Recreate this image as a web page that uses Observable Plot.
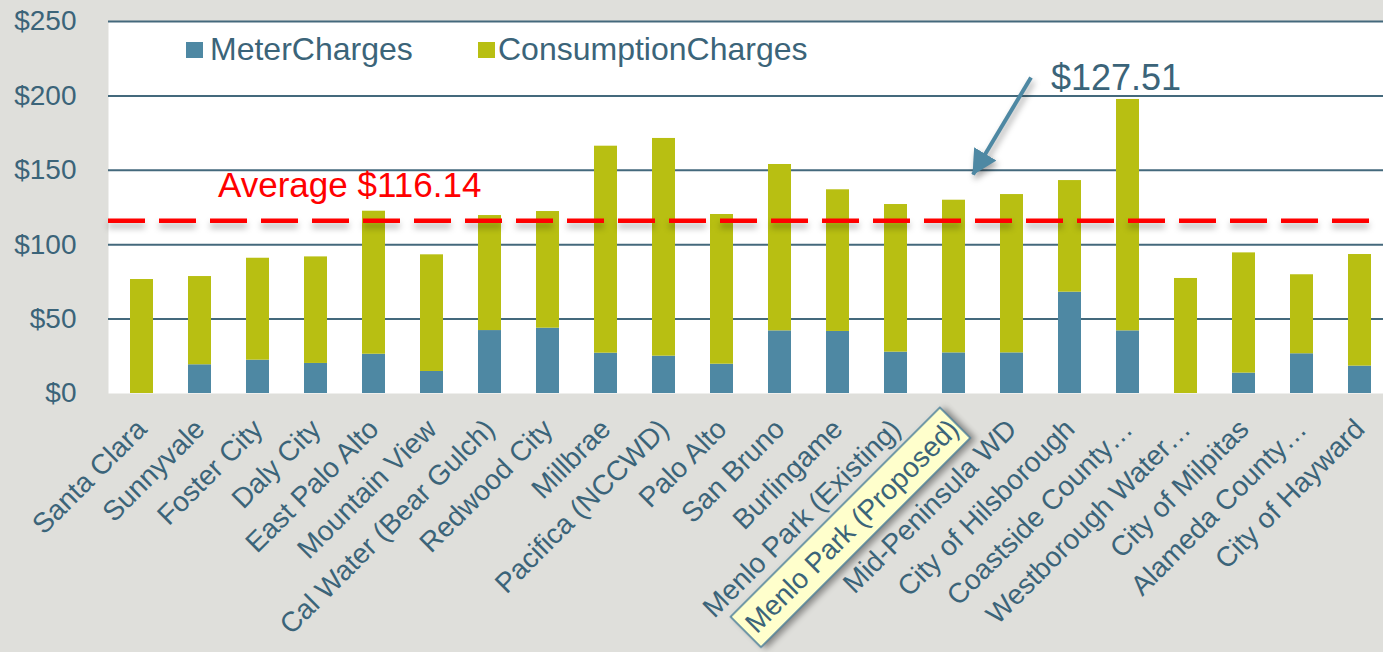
<!DOCTYPE html>
<html><head><meta charset="utf-8">
<script src="https://cdn.jsdelivr.net/npm/d3@7"></script>
<script src="https://cdn.jsdelivr.net/npm/@observablehq/plot@0.6"></script>
<style>
html,body{margin:0;padding:0;background:#dfdfdb;}
#chart{position:relative;width:1383px;height:652px;overflow:hidden;font-family:"Liberation Sans",Arial,sans-serif;}
.lg{position:absolute;font-size:32px;line-height:32px;color:#3b6479;white-space:nowrap;}
.sw{position:absolute;width:17px;height:16px;}
</style></head><body><div id="chart"></div>
<script>
const categories = ["Santa Clara","Sunnyvale","Foster City","Daly City","East Palo Alto","Mountain View","Cal Water (Bear Gulch)","Redwood City","Millbrae","Pacifica (NCCWD)","Palo Alto","San Bruno","Burlingame","Menlo Park (Existing)","Menlo Park (Proposed)","Mid-Peninsula WD","City of Hilsborough","Coastside County…","Westborough Water…","City of Milpitas","Alameda County…","City of Hayward"];
const meterCharges = [0, 19.3, 22.4, 20.2, 26.4, 14.8, 42.3, 43.9, 27.1, 25.1, 19.7, 42.1, 41.7, 27.8, 27.3, 27.3, 68.1, 42.1, 0, 13.7, 26.7, 18.4];
const consumptionCharges = [76.6, 59.3, 68.5, 71.6, 96.1, 78.4, 77.3, 78.4, 139.1, 146.3, 100.6, 111.8, 95.2, 99.2, 102.6, 106.4, 75.0, 155.5, 77.3, 80.8, 53.1, 75.0];
const seriesNames = ["MeterCharges","ConsumptionCharges"];
const yTicks = [0, 50, 100, 150, 200, 250];
const averageValue = 116.14;
const averageLabel = "Average $116.14";
const highlightCategory = "Menlo Park (Proposed)";
const calloutLabel = "$127.51";

const seriesColors = ["#4e88a3", "#b8bf12"];
const textColor = "#3b6479";

const rows = [];
categories.forEach((c, i) => {
  rows.push({category: c, series: seriesNames[0], value: meterCharges[i]});
  rows.push({category: c, series: seriesNames[1], value: consumptionCharges[i]});
});

// annotation anchors (in data units)
const avgNote = [{x: categories[1], y: 139.6, label: averageLabel}];
const calloutNote = [{x: categories[17], y: 212, label: calloutLabel}];
const arrowNote = [{x1: categories[15], y1: 212.4, x2: highlightCategory, y2: 147.2}];

const plot = Plot.plot({
  width: 1383, height: 652,
  marginLeft: 108, marginRight: 0, marginTop: 21, marginBottom: 259,
  style: {background: "transparent", fontFamily: "Liberation Sans, Arial, sans-serif", fontSize: "26px", color: textColor, overflow: "visible"},
  x: {domain: categories, range: [108, 1394], paddingInner: 0.6, paddingOuter: 0.337, label: null},
  y: {domain: [0, 250], label: null},
  color: {domain: seriesNames, range: seriesColors},
  marks: [
    Plot.frame({fill: "white", stroke: null}),
    Plot.gridY(yTicks.filter(d => d > 0), {stroke: "#44697c", strokeOpacity: 1, strokeWidth: 2}),
    Plot.barY(rows, {x: "category", y: "value", fill: "series"}),
    Plot.ruleY([averageValue], {stroke: "#ff0000", strokeWidth: 4.5, strokeDasharray: "37,14"}),
    Plot.axisY({ticks: yTicks, tickFormat: d => "$" + d, tickSize: 0, tickPadding: 32, fontSize: 28, label: null}),
    Plot.axisX({tickRotate: -45, tickSize: 0, tickPadding: 31, fontSize: 28, label: null}),
    Plot.text(avgNote, {x: "x", y: "y", text: "label", textAnchor: "start", lineAnchor: "middle", dx: 18, fill: "#ff0000", fontSize: 35}),
    Plot.text(calloutNote, {x: "x", y: "y", text: "label", textAnchor: "middle", lineAnchor: "middle", dx: -12, fill: textColor, fontSize: 36}),
    Plot.link(arrowNote, {x1: "x1", y1: "y1", x2: "x2", y2: "y2", dx: 19, stroke: "#4e88a3", strokeWidth: 4})
  ]
});

const chart = document.getElementById("chart");
chart.append(plot);
const svg = d3.select(plot);

// arrow head
const defs = svg.insert("defs", ":first-child");
defs.append("marker").attr("id", "ah").attr("viewBox", "0 -13 25 26")
  .attr("refX", 24).attr("refY", 0).attr("markerWidth", 25).attr("markerHeight", 26)
  .attr("markerUnits", "userSpaceOnUse").attr("orient", "auto")
  .append("path").attr("d", "M0,-13L25,0L0,13Z").attr("fill", "#4e88a3");
svg.selectAll('g[aria-label="link"]').style("filter", "drop-shadow(2px 4px 3px rgba(0,0,0,0.35))")
  .selectAll("path").attr("marker-end", "url(#ah)").attr("stroke-linecap", "butt");

// shadow under average line
svg.selectAll('g[aria-label="rule"]').style("filter", "drop-shadow(0px 5px 3px rgba(0,0,0,0.3))");

// highlight box around the proposed label
svg.selectAll("text").each(function() {
  if (this.textContent === highlightCategory) {
    const node = this;
    const bb = node.getBBox();
    d3.select(node.parentNode).insert("rect", () => node)
      .attr("x", bb.x - 6).attr("y", bb.y - 6)
      .attr("width", bb.width + 8).attr("height", bb.height + 12)
      .attr("transform", node.getAttribute("transform"))
      .attr("fill", "#ffffcc").attr("stroke", "#4a7f9a").attr("stroke-width", 1.5)
      .style("filter", "drop-shadow(3px 4px 3px rgba(0,0,0,0.4))");
  }
});

// legend (inside plot area)
const legendPos = [{sw: 186, tx: 210}, {sw: 478, tx: 498}];
seriesNames.forEach((name, i) => {
  const s = document.createElement("div");
  s.className = "sw"; s.style.left = legendPos[i].sw + "px"; s.style.top = "42px"; s.style.background = seriesColors[i];
  chart.append(s);
  const t = document.createElement("div");
  t.className = "lg"; t.style.left = legendPos[i].tx + "px"; t.style.top = "33px"; t.textContent = name;
  chart.append(t);
});
</script></body></html>
